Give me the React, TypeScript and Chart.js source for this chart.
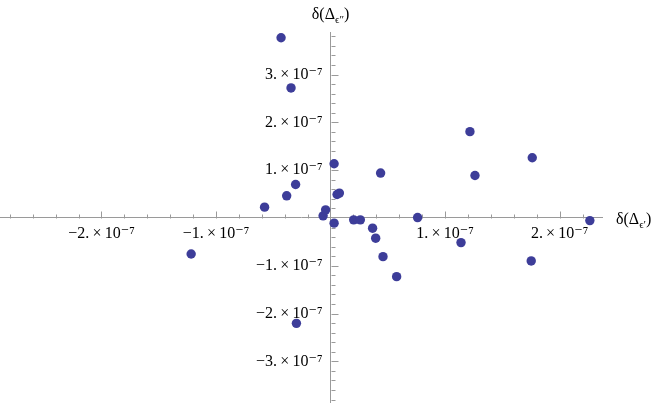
import React, { useEffect, useRef } from "react";
import { Chart, registerables } from "chart.js";

Chart.register(...registerables);

// data
const xValues = [
  -4.32e-8, -3.45e-8, -1.217e-7, -5.76e-8, -3.83e-8, -3.05e-8, -6.5e-9, -4.3e-9,
  3.1e-9, 3.1e-9, 5.7e-9, 7.7e-9, 2.02e-8, 2.6e-8, 3.67e-8, 3.94e-8, 4.37e-8,
  4.58e-8, 5.77e-8, 7.6e-8, 1.139e-7, 1.217e-7, 1.261e-7, 1.761e-7, 1.752e-7,
  2.264e-7, -2.98e-8,
];
const yValues = [
  3.77e-7, 2.72e-7, -7.53e-8, 2.26e-8, 4.63e-8, 7.0e-8, 4.4e-9, 1.7e-8,
  1.134e-7, -1.09e-8, 4.91e-8, 5.2e-8, -4.0e-9, -4.0e-9, -2.14e-8, -4.23e-8, 9.39e-8,
  -8.09e-8, -1.228e-7, 8.0e-10, -5.16e-8, 1.805e-7, 8.89e-8, 1.26e-7, -8.99e-8,
  -5.5e-9, -2.205e-7,
];

const xRange = [-2.886e-7, 2.37e-7];
const yRange = [-3.85e-7, 3.89e-7];
const minorStep = 2e-8;

const xMajorTicks = [-2e-7, -1e-7, 1e-7, 2e-7];
const xTickLabels = ["−2.\u2009×\u200910⁻⁷", "−1.\u2009×\u200910⁻⁷", "1.\u2009×\u200910⁻⁷", "2.\u2009×\u200910⁻⁷"];
const yMajorTicks = [-3e-7, -2e-7, -1e-7, 1e-7, 2e-7, 3e-7];
const yTickLabels = [
  "−3.\u2009×\u200910⁻⁷", "−2.\u2009×\u200910⁻⁷", "−1.\u2009×\u200910⁻⁷",
  "1.\u2009×\u200910⁻⁷", "2.\u2009×\u200910⁻⁷", "3.\u2009×\u200910⁻⁷",
];

const xTitle = ["δ(Δ", "ϵ′", ")"];
const yTitle = ["δ(Δ", "ϵ″", ")"];

const pointColor = "#3d3d99";
const axisColor = "#9a9a9a";
const textColor = "#000000";
const serif = "'Liberation Serif', 'DejaVu Serif', serif";

function majorIndex(v: number, majors: number[]) {
  for (let i = 0; i < majors.length; i++) {
    if (Math.abs(v - majors[i]) < 1e-12) return i;
  }
  return -1;
}

function buildTicks(min: number, max: number) {
  const out: { value: number }[] = [];
  const k0 = Math.ceil(min / minorStep - 1e-6);
  const k1 = Math.floor(max / minorStep + 1e-6);
  for (let k = k0; k <= k1; k++) {
    if (k === 0) continue;
    out.push({ value: k * minorStep });
  }
  return out;
}

function drawTitle(ctx: CanvasRenderingContext2D, parts: string[], x: number, y: number, align: "left" | "center") {
  const mainFont = `16px ${serif}`;
  const subFont = `11px ${serif}`;
  ctx.font = mainFont;
  const w0 = ctx.measureText(parts[0]).width;
  const w2 = ctx.measureText(parts[2]).width;
  ctx.font = subFont;
  const w1 = ctx.measureText(parts[1]).width;
  const total = w0 + w1 + w2;
  let cx = align === "left" ? x : x - total / 2;
  ctx.textAlign = "left";
  ctx.textBaseline = "alphabetic";
  ctx.fillStyle = textColor;
  ctx.font = mainFont;
  ctx.fillText(parts[0], cx, y);
  cx += w0;
  ctx.font = subFont;
  ctx.fillText(parts[1], cx, y + 4);
  cx += w1;
  ctx.font = mainFont;
  ctx.fillText(parts[2], cx, y);
}

const axisDecor = {
  id: "axisDecor",
  beforeDatasetsDraw(chart: any) {
    const { ctx, scales } = chart;
    const xs = scales.x;
    const ys = scales.y;
    const x0 = Math.round(xs.getPixelForValue(0)) + 0.5;
    const y0 = Math.round(ys.getPixelForValue(0)) + 0.5;
    ctx.save();
    ctx.strokeStyle = axisColor;
    ctx.lineWidth = 1;
    ctx.beginPath();
    for (const t of xs.ticks) {
      const px = Math.round(xs.getPixelForValue(t.value)) + 0.5;
      const len = majorIndex(t.value, xMajorTicks) >= 0 ? 7 : 4;
      ctx.moveTo(px, y0);
      ctx.lineTo(px, y0 - len);
    }
    for (const t of ys.ticks) {
      const py = Math.round(ys.getPixelForValue(t.value)) + 0.5;
      const len = majorIndex(t.value, yMajorTicks) >= 0 ? 7 : 4;
      ctx.moveTo(x0, py);
      ctx.lineTo(x0 + len, py);
    }
    ctx.stroke();
    ctx.restore();
  },
  afterDraw(chart: any) {
    const { ctx, scales, chartArea } = chart;
    const xs = scales.x;
    const ys = scales.y;
    ctx.save();
    drawTitle(ctx, xTitle, chartArea.right + 14, ys.getPixelForValue(0) + 6, "left");
    drawTitle(ctx, yTitle, xs.getPixelForValue(0), 19, "center");
    ctx.restore();
  },
};

function zeroPadding(scale: any) {
  scale.paddingTop = 0;
  scale.paddingBottom = 0;
  scale.paddingLeft = 0;
  scale.paddingRight = 0;
}

export default function App() {
  const canvasRef = useRef<HTMLCanvasElement | null>(null);

  useEffect(() => {
    const canvas = canvasRef.current;
    if (!canvas) return;
    const points = xValues.map((x, i) => ({ x, y: yValues[i] }));
    const chart = new Chart(canvas, {
      type: "scatter",
      data: {
        datasets: [
          {
            data: points,
            backgroundColor: pointColor,
            borderWidth: 0,
            pointRadius: 4.7,
            pointHoverRadius: 4.7,
            clip: false,
          },
        ],
      },
      options: {
        responsive: false,
        animation: false,
        layout: { autoPadding: false, padding: { left: 0, right: 52, top: 32, bottom: 1 } },
        plugins: {
          legend: { display: false },
          tooltip: { enabled: false },
          title: { display: false },
        },
        scales: {
          x: {
            type: "linear",
            position: { y: 0 },
            min: xRange[0],
            max: xRange[1],
            afterBuildTicks: (scale: any) => {
              scale.ticks = buildTicks(xRange[0], xRange[1]);
            },
            afterFit: zeroPadding,
            grid: { display: true, drawOnChartArea: false, drawTicks: false },
            border: { display: true, color: axisColor, width: 1 },
            ticks: {
              autoSkip: false,
              maxRotation: 0,
              minRotation: 0,
              padding: 6,
              color: textColor,
              font: { family: serif, size: 16 },
              callback: (value: any) => {
                const i = majorIndex(Number(value), xMajorTicks);
                return i >= 0 ? xTickLabels[i] : "";
              },
            },
          },
          y: {
            type: "linear",
            position: { x: 0 },
            min: yRange[0],
            max: yRange[1],
            afterBuildTicks: (scale: any) => {
              scale.ticks = buildTicks(yRange[0], yRange[1]);
            },
            afterFit: zeroPadding,
            grid: { display: true, drawOnChartArea: false, drawTicks: false },
            border: { display: true, color: axisColor, width: 1 },
            ticks: {
              autoSkip: false,
              color: textColor,
              font: { family: serif, size: 16 },
              callback: (value: any) => {
                const i = majorIndex(Number(value), yMajorTicks);
                return i >= 0 ? yTickLabels[i] + "  " : "";
              },
            },
          },
        },
      },
      plugins: [axisDecor],
    });
    return () => chart.destroy();
  }, []);

  return (
    <div style={{ position: "fixed", left: 0, top: 0, width: 654, height: 403, background: "#ffffff" }}>
      <canvas ref={canvasRef} width={654} height={403} style={{ display: "block", width: 654, height: 403 }} />
    </div>
  );
}
